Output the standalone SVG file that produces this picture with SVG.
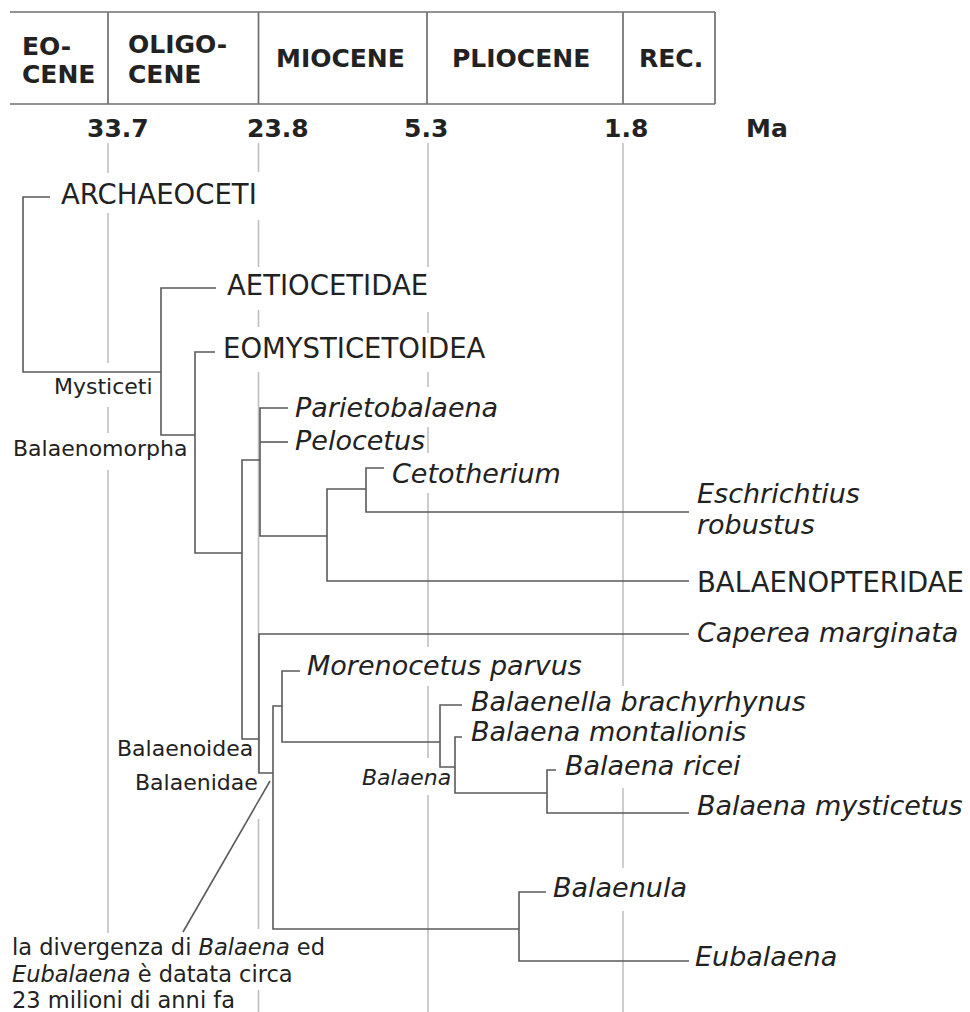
<svg xmlns="http://www.w3.org/2000/svg" width="970" height="1012" viewBox="0 0 970 1012">
<style>
text{font-family:"DejaVu Sans",Verdana,sans-serif;fill:#222}
.hdr{font-size:25px;font-weight:bold}
.big{font-size:27.5px}
.it{font-size:27px;font-style:italic}
.sm{font-size:22px}
.smi{font-size:22px;font-style:italic}
.note{font-size:22.5px}
.grid{stroke:#bdbdbd;stroke-width:1.5;fill:none}
.frame{stroke:#707070;stroke-width:1.7;fill:none}
.br{stroke:#5a5a5a;stroke-width:1.6;fill:none}
</style>
<rect width="970" height="1012" fill="#fff"/>
<g id="timescale">
<path class="frame" d="M10,12H715M10,104H715M108,12V104M258.5,12V104M427,12V104M623,12V104M715,12V104"/>
<text class="hdr" x="22" y="55">EO-</text>
<text class="hdr" x="22" y="83">CENE</text>
<text class="hdr" x="128" y="53">OLIGO-</text>
<text class="hdr" x="128" y="83">CENE</text>
<text class="hdr" x="276" y="67">MIOCENE</text>
<text class="hdr" x="452" y="67">PLIOCENE</text>
<text class="hdr" x="639" y="67">REC.</text>
<text class="hdr" x="87" y="137">33.7</text>
<text class="hdr" x="247" y="137">23.8</text>
<text class="hdr" x="404" y="137">5.3</text>
<text class="hdr" x="604" y="137">1.8</text>
<text class="hdr" x="746" y="137">Ma</text>
</g>
<g id="grid">
<path class="grid" d="M108,143V173M108,213V363M108,407V433M108,470V933"/>
<path class="grid" d="M258.5,143V172M258.5,220V267M258.5,310V327M258.5,372V773M258.5,819V929M258.5,990V1012"/>
<path class="grid" d="M428,143V267M428,312V333M428,372V387M428,427V453M428,493V647M428,686V758M428,795V1012"/>
<path class="grid" d="M623,143V686M623,788V868M623,911V1012"/>
</g>
<g id="connectors">
<path class="br" d="M50,197H23V372H161"/>
<path class="br" d="M216,288H161V435H195"/>
<path class="br" d="M215,352H195V553H242"/>
<path class="br" d="M260,460H242V739H259"/>
<path class="br" d="M288,408H260V536H327"/>
<path class="br" d="M260,442H288"/>
<path class="br" d="M366,489H327V581H689"/>
<path class="br" d="M384,468H366V512H689"/>
<path class="br" d="M689,634H259V773H273"/>
<path class="br" d="M282,706H273V929H519"/>
<path class="br" d="M300,671H282V742H440"/>
<path class="br" d="M462,705H440V767H455"/>
<path class="br" d="M462,737H455V793H547"/>
<path class="br" d="M556,770H547V813H689"/>
<path class="br" d="M546,892H519V961H689"/>
<path class="br" stroke-width="1.3" d="M270,781L183,932"/>
</g>
<g id="archaeoceti"><text class="big" x="61" y="204">ARCHAEOCETI</text></g>
<g id="aetiocetidae"><text class="big" x="227" y="295">AETIOCETIDAE</text></g>
<g id="eomysticetoidea"><text class="big" x="223" y="358">EOMYSTICETOIDEA</text></g>
<g id="mysticeti"><text class="sm" x="54" y="394">Mysticeti</text></g>
<g id="balaenomorpha"><text class="sm" x="13" y="456">Balaenomorpha</text></g>
<g id="parietobalaena"><text class="it" x="295" y="417">Parietobalaena</text></g>
<g id="pelocetus"><text class="it" x="295" y="450">Pelocetus</text></g>
<g id="cetotherium"><text class="it" x="392" y="483">Cetotherium</text></g>
<g id="eschrichtius"><text class="it" x="697" y="503">Eschrichtius</text><text class="it" x="697" y="534">robustus</text></g>
<g id="balaenopteridae"><text class="big" x="697" y="592">BALAENOPTERIDAE</text></g>
<g id="caperea"><text class="it" x="697" y="642">Caperea marginata</text></g>
<g id="morenocetus"><text class="it" x="307" y="675">Morenocetus parvus</text></g>
<g id="balaenella"><text class="it" x="471" y="711">Balaenella brachyrhynus</text></g>
<g id="montalionis"><text class="it" x="471" y="741">Balaena montalionis</text></g>
<g id="ricei"><text class="it" x="565" y="775">Balaena ricei</text></g>
<g id="mysticetus"><text class="it" x="697" y="815">Balaena mysticetus</text></g>
<g id="balaenoidea"><text class="sm" x="117" y="756">Balaenoidea</text></g>
<g id="balaenidae"><text class="sm" x="135" y="790">Balaenidae</text></g>
<g id="balaena"><text class="smi" x="362" y="785">Balaena</text></g>
<g id="balaenula"><text class="it" x="553" y="897">Balaenula</text></g>
<g id="eubalaena"><text class="it" x="695" y="966">Eubalaena</text></g>
<g id="note">
<text class="note" x="12" y="955">la divergenza di <tspan font-style="italic">Balaena</tspan> ed</text>
<text class="note" x="12" y="982"><tspan font-style="italic">Eubalaena</tspan> è datata circa</text>
<text class="note" x="12" y="1008">23 milioni di anni fa</text>
</g>
</svg>
